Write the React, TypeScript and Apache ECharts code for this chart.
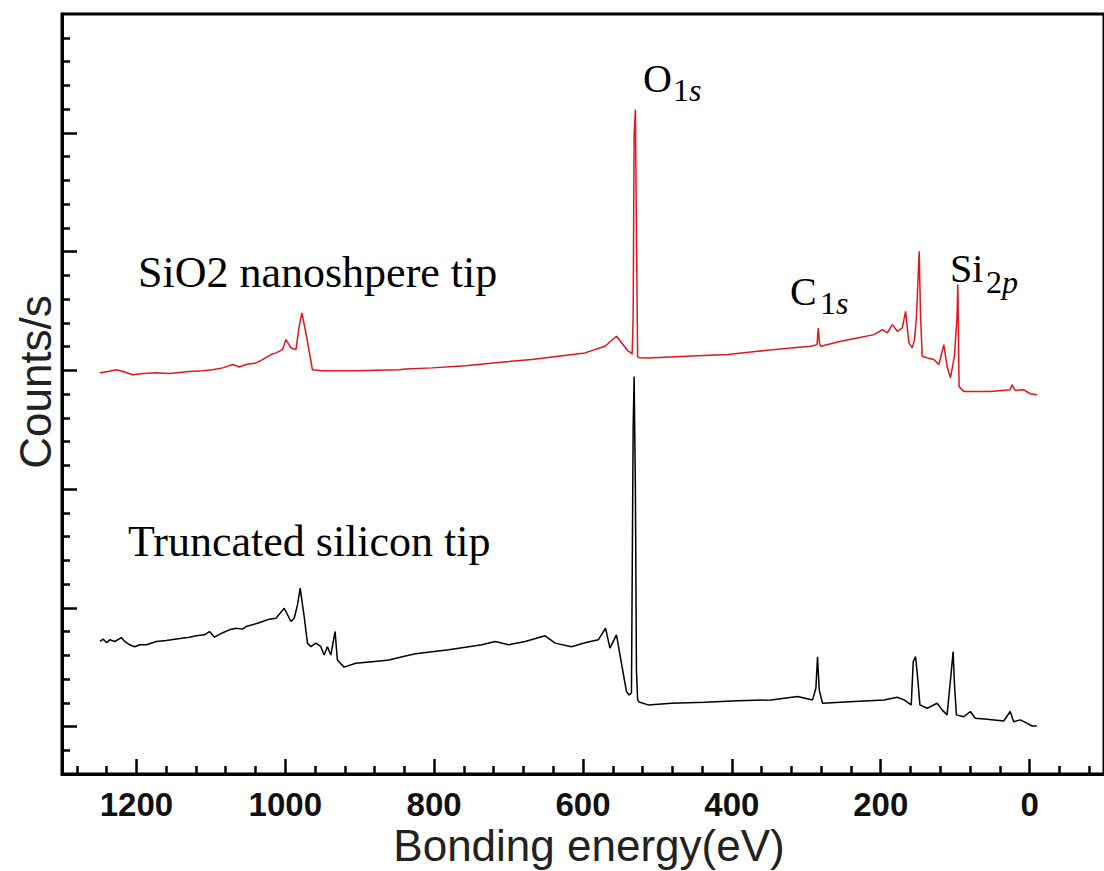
import React, { useEffect, useRef } from "react";
import * as echarts from "echarts";

// ---- Data (binding energy in eV, counts in arbitrary units) ----
const RED_EV = [
  1249.0, 1238.0, 1226.8, 1218.0, 1204.6, 1191.2, 1173.2, 1155.4, 1128.6, 1110.8,
  1097.8, 1084.0, 1070.6, 1061.6, 1052.7, 1039.3, 1030.5, 1019.2, 1012.5,
  1003.7, 999.1, 992.4, 985.7, 981.3, 977.7, 972.3, 963.5, 950.1, 905.4,
  847.4, 838.4, 802.8, 758.0, 713.4, 668.8, 633.1, 597.3, 570.5, 555.0,
  539.3, 534.9, 534.0, 532.6, 531.3, 529.6, 528.0, 526.6, 524.6, 512.5,
  445.6, 405.4, 365.2, 320.6, 293.8, 285.5, 283.9, 282.2, 280.4, 253.7,
  231.3, 208.9, 197.8, 191.1, 184.4, 177.7, 171.0, 166.6, 162.1, 157.6,
  154.6, 151.9, 148.3, 146.5, 144.2, 137.5, 128.6, 121.9, 115.2, 110.8,
  106.3, 101.0, 97.4, 96.4, 94.7, 88.4, 52.8, 26.0, 23.7, 19.3,
  8.0, -0.8, -9.8,
];
const RED_COUNTS = [
  16.89, 16.95, 17.02, 16.95, 16.81, 16.86, 16.89, 16.86, 16.95, 16.98,
  17.02, 17.10, 17.24, 17.14, 17.24, 17.31, 17.45, 17.66, 17.73,
  17.87, 18.29, 17.94, 17.87, 18.85, 19.41, 18.57, 17.02, 16.98, 16.98,
  17.02, 17.05, 17.10, 17.19, 17.33, 17.45, 17.59, 17.73, 18.01, 18.43,
  17.80, 17.73, 17.66, 19.26, 26.93, 27.98, 22.08, 17.57, 17.53, 17.52,
  17.61, 17.66, 17.80, 17.94, 18.01, 18.08, 18.78, 18.12, 18.01, 18.22,
  18.36, 18.50, 18.71, 18.57, 18.92, 18.64, 18.78, 19.48, 18.15, 17.94,
  18.29, 19.27, 22.01, 19.27, 17.59, 17.52, 17.45, 17.24, 18.08, 17.16,
  16.68, 17.59, 19.27, 20.61, 16.32, 16.11, 16.11, 16.18, 16.39, 16.15,
  16.18, 16.01, 15.97,
];

const BLACK_EV = [
  1249.0, 1244.7, 1240.2, 1235.8, 1229.1, 1220.1, 1215.7, 1209.0, 1202.3, 1195.6,
  1186.6, 1173.2, 1159.8, 1146.4, 1128.6, 1119.7, 1108.5, 1101.8, 1095.1, 1084.0,
  1075.1, 1066.1, 1057.2, 1052.7, 1037.1, 1030.5, 1021.5, 1012.5, 1001.4, 992.4,
  988.0, 983.6, 980.0, 974.6, 970.2, 965.6, 958.9, 952.2, 947.8, 943.4,
  938.8, 933.1, 930.0, 921.0, 905.4, 883.1, 860.8, 838.4, 825.0, 802.8,
  780.4, 758.0, 735.8, 717.9, 700.0, 677.7, 650.9, 637.5, 615.3, 597.3,
  579.5, 569.7, 563.8, 555.0, 549.1, 541.6, 538.0, 534.9, 532.6, 531.3,
  529.6, 528.2, 526.6, 524.6, 512.5, 481.3, 436.6, 392.0, 347.4, 311.7,
  291.6, 287.1, 284.9, 282.6, 278.2, 235.7, 195.5, 177.7, 168.8, 159.0,
  156.3, 153.2, 150.9, 147.3, 137.5, 124.2, 117.5, 110.8, 105.4, 102.7,
  101.0, 98.3, 88.4, 79.6, 72.9, 57.2, 34.8, 26.0, 21.4, 12.6,
  3.6, -3.1, -9.8,
];
const BLACK_COUNTS = [
  5.58, 5.68, 5.53, 5.65, 5.58, 5.74, 5.58, 5.44, 5.36, 5.44,
  5.44, 5.58, 5.62, 5.68, 5.76, 5.82, 5.86, 6.0, 5.76, 5.95,
  6.07, 6.14, 6.10, 6.21, 6.35, 6.42, 6.52, 6.56, 6.98, 6.42,
  6.56, 7.12, 7.83, 6.63, 5.51, 5.36, 5.51, 5.36, 5.01, 5.36,
  5.01, 6.0, 4.8, 4.5, 4.66, 4.73, 4.8, 4.97, 5.06, 5.15,
  5.23, 5.34, 5.44, 5.58, 5.44, 5.58, 5.82, 5.51, 5.36, 5.53,
  5.65, 6.14, 5.3, 5.86, 4.8, 3.47, 3.33, 3.41, 14.64, 16.74,
  11.97, 4.38, 3.12, 3.03, 2.91, 2.98, 3.02, 3.08, 3.12, 3.26,
  3.12, 3.61, 4.94, 3.54, 2.98, 3.05, 3.12, 3.23, 3.12, 2.91,
  4.73, 4.94, 4.24, 2.91, 2.77, 2.98, 2.7, 2.49, 4.24, 5.15,
  3.82, 2.49, 2.41, 2.63, 2.35, 2.31, 2.23, 2.63, 2.2, 2.28,
  2.14, 2.02, 2.02,
];

const X_MAJOR = [0, 200, 400, 600, 800, 1000, 1200];
const X_MINOR: number[] = [];
for (let v = -80; v <= 1280; v += 40) if (v % 200 !== 0) X_MINOR.push(v);
const Y_MAJOR = [2, 7, 12, 17, 22, 27];
const Y_MINOR: number[] = [];
for (let v = 1; v <= 31; v++) if (Y_MAJOR.indexOf(v) < 0) Y_MINOR.push(v);

const X_NAME = "Bonding energy(eV)";
const Y_NAME = "Counts/s";
const RED_LABEL = "SiO2 nanoshpere tip";
const BLACK_LABEL = "Truncated silicon tip";

export default function App() {
  const ref = useRef<HTMLDivElement>(null);
  useEffect(() => {
    if (!ref.current) return;
    const chart = echarts.init(ref.current, undefined, { renderer: "svg" });
    const red = RED_EV.map((x, i) => [x, RED_COUNTS[i]]);
    const black = BLACK_EV.map((x, i) => [x, BLACK_COUNTS[i]]);
    const tickStyle = { color: "#000", width: 2.5 };
    const serif = "'Liberation Serif', 'Times New Roman', serif";
    const sans = "'Liberation Sans', Arial, sans-serif";
    const subRich = {
      n: { fontFamily: serif, fontSize: 32, fill: "#000" },
      i: { fontFamily: serif, fontSize: 32, fontStyle: "italic", fill: "#000" },
    };
    chart.setOption({
      animation: false,
      backgroundColor: "#fff",
      grid: {
        left: 62,
        right: -3,
        top: 14,
        bottom: 97,
        show: true,
        borderColor: "#000",
        borderWidth: 3,
      },
      xAxis: [
        {
          type: "value",
          min: -100,
          max: 1300,
          inverse: true,
          position: "bottom",
          axisLine: { show: true, onZero: false, lineStyle: { color: "#000", width: 3 } },
          axisTick: { show: true, inside: true, length: 15, customValues: X_MAJOR, lineStyle: tickStyle },
          axisLabel: {
            customValues: X_MAJOR,
            formatter: (v: number) => String(v),
            margin: 30,
            verticalAlign: "middle",
            fontSize: 33,
            fontWeight: "bold",
            fontFamily: sans,
            color: "#111",
          },
          splitLine: { show: false },
        },
        {
          type: "value",
          min: -100,
          max: 1300,
          inverse: true,
          position: "bottom",
          axisLine: { show: false, onZero: false },
          axisTick: { show: true, inside: true, length: 8, customValues: X_MINOR, lineStyle: tickStyle },
          axisLabel: { show: false },
          splitLine: { show: false },
        },
      ],
      yAxis: [
        {
          type: "value",
          min: 0,
          max: 32,
          position: "left",
          axisLine: { show: true, onZero: false, lineStyle: { color: "#000", width: 3 } },
          axisTick: { show: true, inside: true, length: 15, customValues: Y_MAJOR, lineStyle: tickStyle },
          axisLabel: { show: false },
          splitLine: { show: false },
        },
        {
          type: "value",
          min: 0,
          max: 32,
          position: "left",
          axisLine: { show: false, onZero: false },
          axisTick: { show: true, inside: true, length: 8, customValues: Y_MINOR, lineStyle: tickStyle },
          axisLabel: { show: false },
          splitLine: { show: false },
        },
      ],
      series: [
        {
          type: "line",
          name: RED_LABEL,
          data: red,
          xAxisIndex: 0,
          yAxisIndex: 0,
          showSymbol: false,
          symbol: "none",
          lineStyle: { color: "#e0161b", width: 1.5 },
          silent: true,
        },
        {
          type: "line",
          name: BLACK_LABEL,
          data: black,
          xAxisIndex: 0,
          yAxisIndex: 0,
          showSymbol: false,
          symbol: "none",
          lineStyle: { color: "#000", width: 1.5 },
          silent: true,
        },
      ],
      graphic: [
        { type: "text", x: 589, y: 845, style: { text: X_NAME, font: `44px ${sans}`, fill: "#222", align: "center", verticalAlign: "middle" } },
        { type: "text", x: 35, y: 382, rotation: Math.PI / 2, style: { text: Y_NAME, font: `44px ${sans}`, fill: "#222", align: "center", verticalAlign: "middle" } },
        { type: "text", x: 138, y: 272, style: { text: RED_LABEL, font: `44px ${serif}`, fill: "#000", align: "left", verticalAlign: "middle" } },
        { type: "text", x: 128, y: 541, style: { text: BLACK_LABEL, font: `44px ${serif}`, fill: "#000", align: "left", verticalAlign: "middle" } },
        { type: "text", x: 643, y: 78.5, style: { text: "O", font: `40px ${serif}`, fill: "#000", align: "left", verticalAlign: "middle" } },
        { type: "text", x: 673, y: 90, style: { text: "{n|1}{i|s}", rich: subRich, align: "left", verticalAlign: "middle" } },
        { type: "text", x: 790, y: 291.5, style: { text: "C", font: `40px ${serif}`, fill: "#000", align: "left", verticalAlign: "middle" } },
        { type: "text", x: 820, y: 303, style: { text: "{n|1}{i|s}", rich: subRich, align: "left", verticalAlign: "middle" } },
        { type: "text", x: 950, y: 268, style: { text: "Si", font: `40px ${serif}`, fill: "#000", align: "left", verticalAlign: "middle" } },
        { type: "text", x: 986, y: 282, style: { text: "{n|2}{i|p}", rich: subRich, align: "left", verticalAlign: "middle" } },
      ],
    });
    return () => chart.dispose();
  }, []);
  return (
    <div
      ref={ref}
      style={{ position: "fixed", left: 0, top: 0, width: 1104, height: 871, background: "#fff" }}
    />
  );
}
